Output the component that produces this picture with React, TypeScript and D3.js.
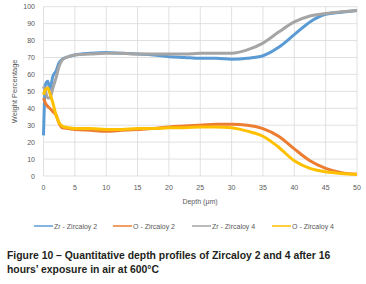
import React from "react";
import * as d3 from "d3";

const depth = [0, 0.3, 0.7, 1, 1.5, 2, 2.5, 3, 4, 5, 7.5, 10, 12.5, 15, 17.5, 20, 22.5, 25, 27.5, 30, 32.5, 35, 37.5, 40, 42.5, 45, 47.5, 50];
const zrZy2 = [24, 54, 56, 51, 59, 62, 67, 69, 70.5, 71.5, 72.5, 73, 72.5, 72, 71.5, 70.5, 70, 69.5, 69.5, 69, 69.5, 71, 76, 83.5, 91, 95.5, 96.7, 97.8];
const oZy2 = [46, 43, 41, 40, 38, 36, 31, 28.5, 28, 27.5, 27, 26.5, 27, 27.5, 28, 29, 29.5, 30, 30.5, 30.5, 30, 28, 23.5, 16, 9, 4.5, 2, 1];
const zrZy4 = [53, 50, 46, 46, 52, 58, 65, 68.5, 70.5, 71.5, 72, 72.5, 72.5, 72, 72, 72, 72, 72.5, 72.5, 72.5, 74.5, 78.5, 85, 91, 94.5, 96, 97, 97.8];
const oZy4 = [48, 51, 52, 49, 43, 36, 31.5, 29.5, 28.5, 28, 28, 27.5, 27.5, 28, 28, 28.5, 28.5, 29, 29, 28.5, 26.5, 23.5, 17, 9, 4.5, 2.5, 1.5, 1];

const xTicks = [0, 5, 10, 15, 20, 25, 30, 35, 40, 45, 50];
const yTicks = [0, 10, 20, 30, 40, 50, 60, 70, 80, 90, 100];

const seriesNames = ["Zr - Zircaloy 2", "O - Zircaloy 2", "Zr - Zircaloy 4", "O - Zircaloy 4"];
const seriesValues = [zrZy2, oZy2, zrZy4, oZy4];
const colors = ["#5B9BD5", "#ED7D31", "#A5A5A5", "#FFC000"];
const drawOrder = [0, 1, 2, 3];

const captionLines = [
  "Figure 10 \u2013 Quantitative depth profiles of Zircaloy 2 and 4 after 16",
  "hours\u2019 exposure in air at 600\u00b0C",
];

export default function App() {
  const W = 366, H = 284;
  const x = d3.scaleLinear().domain([0, 50]).range([43.5, 357]);
  const y = d3.scaleLinear().domain([0, 100]).range([176, 6.7]);
  const line = d3
    .line<number>()
    .x((_, i) => x(depth[i]))
    .y((v) => y(v))
    .curve(d3.curveMonotoneX);
  const font = "'Liberation Sans', Arial, sans-serif";
  const legendX = [34, 113, 192, 272];
  return (
    <svg width={W} height={H} style={{ position: "absolute", left: 0, top: 0, background: "#fff" }}>
      <rect x={0} y={0} width={W} height={H} fill="#fff" />
      {yTicks.map((t) => (
        <line key={"gy" + t} x1={x(0)} x2={x(50)} y1={y(t)} y2={y(t)} stroke="#D9D9D9" strokeWidth={0.8} />
      ))}
      {xTicks.map((t) => (
        <line key={"gx" + t} x1={x(t)} x2={x(t)} y1={y(0)} y2={y(100)} stroke="#D9D9D9" strokeWidth={0.8} />
      ))}
      {yTicks.map((t) => (
        <text key={"ty" + t} x={35} y={y(t) + 2.5} textAnchor="end" fontSize={7} fill="#595959" fontFamily={font}>
          {t}
        </text>
      ))}
      {xTicks.map((t) => (
        <text key={"tx" + t} x={x(t)} y={190} textAnchor="middle" fontSize={7} fill="#595959" fontFamily={font}>
          {t}
        </text>
      ))}
      <text x={200} y={204} textAnchor="middle" fontSize={7} fill="#595959" fontFamily={font}>
        Depth (μm)
      </text>
      <text
        transform={`translate(16.5,${y(50)}) rotate(-90)`}
        textAnchor="middle"
        fontSize={7.5}
        fill="#595959"
        fontFamily={font}
      >
        Weight Percentage
      </text>
      {drawOrder.map((i) => (
        <path key={"s" + i} d={line(seriesValues[i]) || ""} fill="none" stroke={colors[i]} strokeWidth={3} strokeLinejoin="round" />
      ))}
      {seriesNames.map((n, i) => (
        <g key={"lg" + i}>
          <line x1={legendX[i]} x2={legendX[i] + 19} y1={226} y2={226} stroke={colors[i]} strokeWidth={1.5} />
          <text x={legendX[i] + 20} y={228.5} fontSize={7} fill="#595959" fontFamily={font}>
            {n}
          </text>
        </g>
      ))}
      {captionLines.map((c, i) => (
        <text
          key={"c" + i}
          x={7}
          y={258.5 + i * 14.6}
          fontSize={10.4}
          fontWeight="bold"
          fill="#231F20"
          fontFamily="'Liberation Sans', Arial, sans-serif"
        >
          {c}
        </text>
      ))}
    </svg>
  );
}
